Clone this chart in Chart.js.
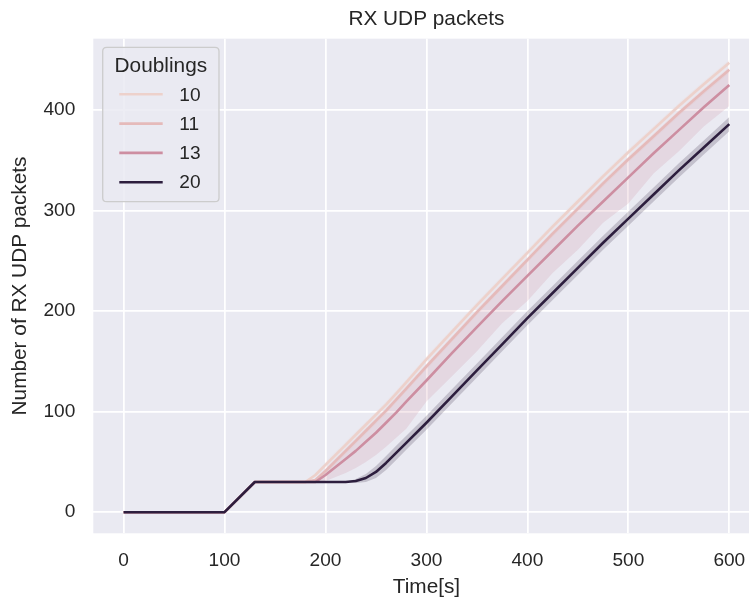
<!DOCTYPE html>
<html><head><meta charset="utf-8">
<script src="https://cdn.jsdelivr.net/npm/chart.js@4.4.1/dist/chart.umd.min.js"></script>
<style>
html,body{margin:0;padding:0;overflow:hidden;background:#fff;width:749px;height:603px}
#wrap{position:absolute;left:0;top:0;width:770px;height:603px}
</style></head><body><div id="wrap"><canvas id="c" width="770" height="603"></canvas></div>
<script>
// ---- data ----
const time = [0,100,130,180,190,200,210,220,230,240,250,260,270,280,300,325,350,375,400,425,450,475,500,525,550,575,600];
const seriesLabels = ['10','11','13','20'];
const s10   = [0,0,30,30,37,47,57,67,77,87,97,107,118,129,152,179,206,232,258,284,309,334,358,381,404,426,447];
const s10lo = [0,0,30,30,35,44,54,64,74,84,94,104,115,126,149,176,203,229,255,281,306,331,355,378,401,423,444];
const s10hi = [0,0,30,30,39,50,60,70,80,90,100,110,121,132,155,182,209,235,261,287,312,337,361,384,407,429,450];
const s11   = [0,0,30,30,32,41,51,61,71,81,91,101,112,123,145,172,199,225,251,277,302,327,351,374,397,419,440];
const s11lo = [0,0,30,30,31,38,48,58,68,78,88,98,109,120,142,169,196,222,248,274,299,324,348,371,394,416,437];
const s11hi = [0,0,30,30,33,44,54,64,74,84,94,104,115,126,148,175,202,228,254,280,305,330,354,377,400,422,443];
const s13   = [0,0,30,30,30,37,45,53,61,70,79,89,99,110,131,158,184,210,235,260,285,309,333,357,380,403,425];
const s13lo = [0,0,30,30,29,31,35,39,44,50,57,65,74,83,110,135,160,188,210,238,261,288,307,337,359,384,404];
const s13hi = [0,0,30,30,32,42,52,62,72,82,92,102,113,124,147,174,200,226,252,276,302,326,350,374,397,419,441];
const s20   = [0,0,30,30,30,30,30,30,31,34,40,49,59,69,89,115,141,167,193,218,243,268,292,316,340,363,386];
const s20lo = [0,0,30,30,30,30,30,30,29,30,34,42,52,62,82,108,134,160,186,211,236,261,285,309,333,356,379];
const s20hi = [0,0,30,30,30,30,30,30,33,38,46,56,66,76,96,122,148,174,200,225,250,275,299,323,347,370,393];
const xTicks = [0,100,200,300,400,500,600];
const yTicks = [0,100,200,300,400];

// ---- styling ----
const colors = ['rgb(237,209,203)','rgb(229,186,186)','rgb(205,142,161)','rgb(45,30,62)'];
const bandColors = ['rgba(237,209,203,0.2)','rgba(229,186,186,0.2)','rgba(205,142,161,0.2)','rgba(45,30,62,0.2)'];
const means = [s10,s11,s13,s20], lows=[s10lo,s11lo,s13lo,s20lo], highs=[s10hi,s11hi,s13hi,s20hi];
const FONT = "'Liberation Sans', Arial, sans-serif";
const TXT = '#262626';
const pts = arr => arr.map((v,i)=>({x:time[i], y:v}));

const datasets = [];
for (let k=0;k<4;k++){
  datasets.push({label:'lo'+k, data:pts(lows[k]), borderWidth:0, pointRadius:0, fill:false, order:20+k});
  datasets.push({label:'hi'+k, data:pts(highs[k]), borderWidth:0, pointRadius:0, backgroundColor:bandColors[k], fill:{target:2*k}, order:20+k});
}
for (let k=0;k<4;k++){
  datasets.push({label:seriesLabels[k], data:pts(means[k]), borderColor:colors[k], borderWidth:2.6, pointRadius:0, fill:false, order:3-k, tension:0, borderJoinStyle:'round', borderCapStyle:'butt'});
}

const bgPlugin = {
  id:'bg',
  beforeDraw(chart){
    const {ctx, chartArea:a} = chart;
    ctx.save(); ctx.fillStyle='#eaeaf2'; ctx.fillRect(a.left,a.top,a.right-a.left,a.bottom-a.top); ctx.restore();
  }
};
const legendPlugin = {
  id:'seabornLegend',
  afterDraw(chart){
    const ctx = chart.ctx;
    const x=102.7, y=47.3, w=116.3, h=154.4, r=4;
    ctx.save();
    ctx.beginPath();
    ctx.moveTo(x+r,y); ctx.lineTo(x+w-r,y); ctx.quadraticCurveTo(x+w,y,x+w,y+r);
    ctx.lineTo(x+w,y+h-r); ctx.quadraticCurveTo(x+w,y+h,x+w-r,y+h);
    ctx.lineTo(x+r,y+h); ctx.quadraticCurveTo(x,y+h,x,y+h-r);
    ctx.lineTo(x,y+r); ctx.quadraticCurveTo(x,y,x+r,y); ctx.closePath();
    ctx.fillStyle='rgba(234,234,242,0.85)'; ctx.fill();
    ctx.strokeStyle='#cccccc'; ctx.lineWidth=1.3; ctx.stroke();
    ctx.fillStyle=TXT; ctx.textBaseline='middle';
    ctx.font = `20.8px ${FONT}`; ctx.textAlign='center';
    ctx.fillText('Doublings', x+w/2, 66);
    ctx.font = `19.1px ${FONT}`; ctx.textAlign='left';
    seriesLabels.forEach((lab,i)=>{
      const ly = 94.3 + i*29.3;
      ctx.strokeStyle = colors[i]; ctx.lineWidth=2.6;
      ctx.beginPath(); ctx.moveTo(119.3,ly); ctx.lineTo(162.7,ly); ctx.stroke();
      ctx.fillStyle=TXT; ctx.fillText(lab, 179.3, ly+1);
    });
    ctx.restore();
  }
};

Chart.defaults.font.family = FONT;
new Chart(document.getElementById('c').getContext('2d'), {
  type:'line',
  data:{datasets},
  plugins:[bgPlugin, legendPlugin],
  options:{
    responsive:false, animation:false, devicePixelRatio:1,
    layout:{padding:{left:0,right:10.4,top:0,bottom:0}},
    plugins:{
      legend:{display:false}, tooltip:{enabled:false},
      filler:{drawTime:'beforeDatasetsDraw', propagate:false},
      title:{display:true, text:'RX UDP packets', color:TXT, fullSize:false,
        font:{size:20.8, weight:'normal', family:FONT}, padding:{top:6.3,bottom:7.4}}
    },
    scales:{
      x:{type:'linear', min:-30, max:630,
        afterBuildTicks:s=>{s.ticks = xTicks.map(v=>({value:v}));},
        afterFit:s=>{s.height=69.7;},
        grid:{color:'#ffffff', lineWidth:1.74, drawTicks:false},
        border:{display:false},
        ticks:{color:TXT, font:{size:19.1}, padding:16, maxRotation:0},
        title:{display:true, text:'Time[s]', color:TXT, font:{size:20.8}, padding:{top:0,bottom:3}}
      },
      y:{type:'linear', min:-21, max:471,
        afterBuildTicks:s=>{s.ticks = yTicks.map(v=>({value:v}));},
        afterFit:s=>{s.width=93.3;},
        grid:{color:'#ffffff', lineWidth:1.74, drawTicks:false},
        border:{display:false},
        ticks:{color:TXT, font:{size:19.1}, padding:18},
        title:{display:true, text:'Number of RX UDP packets', color:TXT, font:{size:20.8}, padding:{top:8,bottom:0}}
      }
    }
  }
});
</script></body></html>
